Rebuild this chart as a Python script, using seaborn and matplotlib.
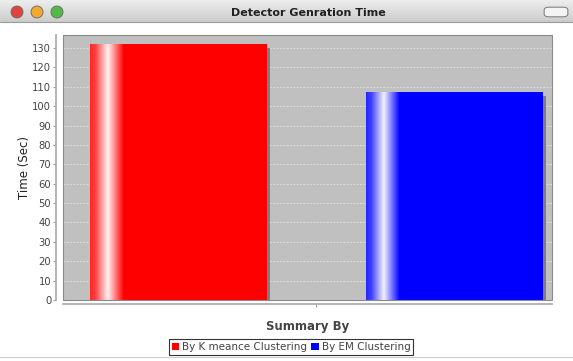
import numpy as np
import pandas as pd
import matplotlib
matplotlib.use("Agg")
import matplotlib.pyplot as plt
import matplotlib.patheffects as pe
from matplotlib.patches import Rectangle, Circle, FancyBboxPatch
from matplotlib.colors import to_rgb
import seaborn as sns

# ---- data ----
categories = ["Summary By"]
series = ["By K meance Clustering", "By EM Clustering"]
values = [132, 107]
colors = ["#ff0000", "#0000ff"]
y_ticks = list(range(0, 140, 10))

title = "Detector Genration Time"
x_label = "Summary By"
y_label = "Time (Sec)"

df = pd.DataFrame({
    "category": [categories[0]] * len(series),
    "series": series,
    "value": values,
})

sns.set_theme(style="white")
plt.rcParams["font.family"] = ["DejaVu Sans"]

fig = plt.figure(figsize=(5.73, 3.61), dpi=100)
fig.patch.set_facecolor("white")

# ---- window title bar ----
W, H = 573, 361
bar_h = 22
grad = np.linspace(0.93, 0.80, 50).reshape(-1, 1)
tb = fig.add_axes([0, 1 - bar_h / H, 1, bar_h / H])
tb.imshow(np.dstack([grad, grad, grad]), aspect="auto", extent=[0, 1, 0, 1])
tb.set_axis_off()
fig.add_artist(plt.Line2D([0, 1], [1 - bar_h / H, 1 - bar_h / H], color="#9a9a9a", lw=0.8,
                          transform=fig.transFigure))
for cx, c in zip([17, 37, 57], ["#e0443e", "#f0a830", "#52b848"]):
    fig.add_artist(Circle((cx / 100, (H - 12) / 100), 6.0 / 100,
                          transform=fig.dpi_scale_trans,
                          facecolor=c, edgecolor="#666666", lw=0.6))
fig.add_artist(FancyBboxPatch((547 / W, 1 - 15 / H), 18 / W, 6 / H,
                              boxstyle="round,pad=0.005,rounding_size=0.008",
                              transform=fig.transFigure, facecolor="#f4f4f4",
                              edgecolor="#777777", lw=0.7))
fig.text(308 / W, 1 - 13 / H, title, ha="center", va="center", fontsize=8,
         fontweight="bold", color="#222222")

# ---- main axes ----
ax = fig.add_axes([63 / W, (H - 300) / H, (552 - 63) / W, (300 - 35) / H])
ax.set_facecolor("#c0c0c0")

sns.barplot(data=df, x="category", y="value", hue="series", palette=colors,
            width=0.8, gap=0.362, ax=ax, legend=True, saturation=1,
            edgecolor="none", zorder=3)

ax.set_yticks(y_ticks)
ax.set_yticklabels([str(t) for t in y_ticks])
ax.set_xticks([0])
ax.set_xticklabels([""])

ax.grid(axis="y", color="#e4e4e4", lw=0.6, linestyle=(0, (2, 2)), zorder=1)
ax.grid(axis="x", visible=False)
ax.set_axisbelow(True)

# gradient + shadow on bars
for patch, col in zip(ax.patches, colors):
    x0, w = patch.get_x(), patch.get_width()
    h = patch.get_height()
    if w <= 0 or h <= 0:
        continue
    patch.set_path_effects([pe.SimplePatchShadow(offset=(3, -2.5), shadow_rgbFace="#777777",
                                                 alpha=0.9), pe.Normal()])
    base = np.array(to_rgb(col))
    white = np.ones(3)
    n = 400
    t = np.linspace(0, 1, n)
    mix = np.interp(t, [0, 0.03, 0.10, 0.19, 1.0], [0.15, 0.25, 0.95, 0.0, 0.0])
    rgb = base[None, :] * (1 - mix[:, None]) + white[None, :] * mix[:, None]
    img = rgb[None, :, :]
    ax.imshow(img, extent=[x0, x0 + w, 0, h], aspect="auto", zorder=4,
              interpolation="bilinear")

ax.set_ylim(0, 136.7)
ax.set_xlim(-0.367, 0.342)

# spines
for s in ["top", "right"]:
    ax.spines[s].set_visible(False)
ax.spines["left"].set_position(("outward", 5))
ax.spines["bottom"].set_position(("outward", 3))
ax.spines["left"].set_color("#a8a8a8")
ax.spines["bottom"].set_color("#a8a8a8")
ax.spines["left"].set_linewidth(1.2)
ax.spines["bottom"].set_linewidth(1.2)
ax.add_patch(Rectangle((0, 0), 1, 1, transform=ax.transAxes, fill=False,
                       edgecolor="#8a8a8a", lw=0.8, zorder=6, clip_on=False))

ax.tick_params(axis="y", left=True, length=2, width=0.6, color="#888888",
               labelsize=7.2, labelcolor="#444444", pad=1.5)
ax.tick_params(axis="x", bottom=True, length=2, width=0.6, color="#888888")

ax.set_ylabel(y_label, fontsize=8.5, color="#222222", labelpad=1)
ax.set_xlabel(x_label, fontsize=8.5, fontweight="bold", color="#444444", labelpad=6)

# legend
handles, labels = ax.get_legend_handles_labels()
if ax.get_legend():
    ax.get_legend().remove()
leg = fig.legend(handles, labels, loc="center", bbox_to_anchor=(291 / W, 1 - 347 / H),
                 ncol=2, fontsize=7.5, frameon=True, fancybox=False,
                 handlelength=0.7, handleheight=0.7, handletextpad=0.3,
                 columnspacing=0.4, borderpad=0.25, borderaxespad=0)
leg.get_frame().set_edgecolor("#000000")
leg.get_frame().set_linewidth(0.8)
for txt in leg.get_texts():
    txt.set_color("#444444")

fig.add_artist(plt.Line2D([0, 1], [1 - 357 / H, 1 - 357 / H], color="#cccccc", lw=0.8,
                          transform=fig.transFigure))

fig.savefig("out.png", dpi=100)
